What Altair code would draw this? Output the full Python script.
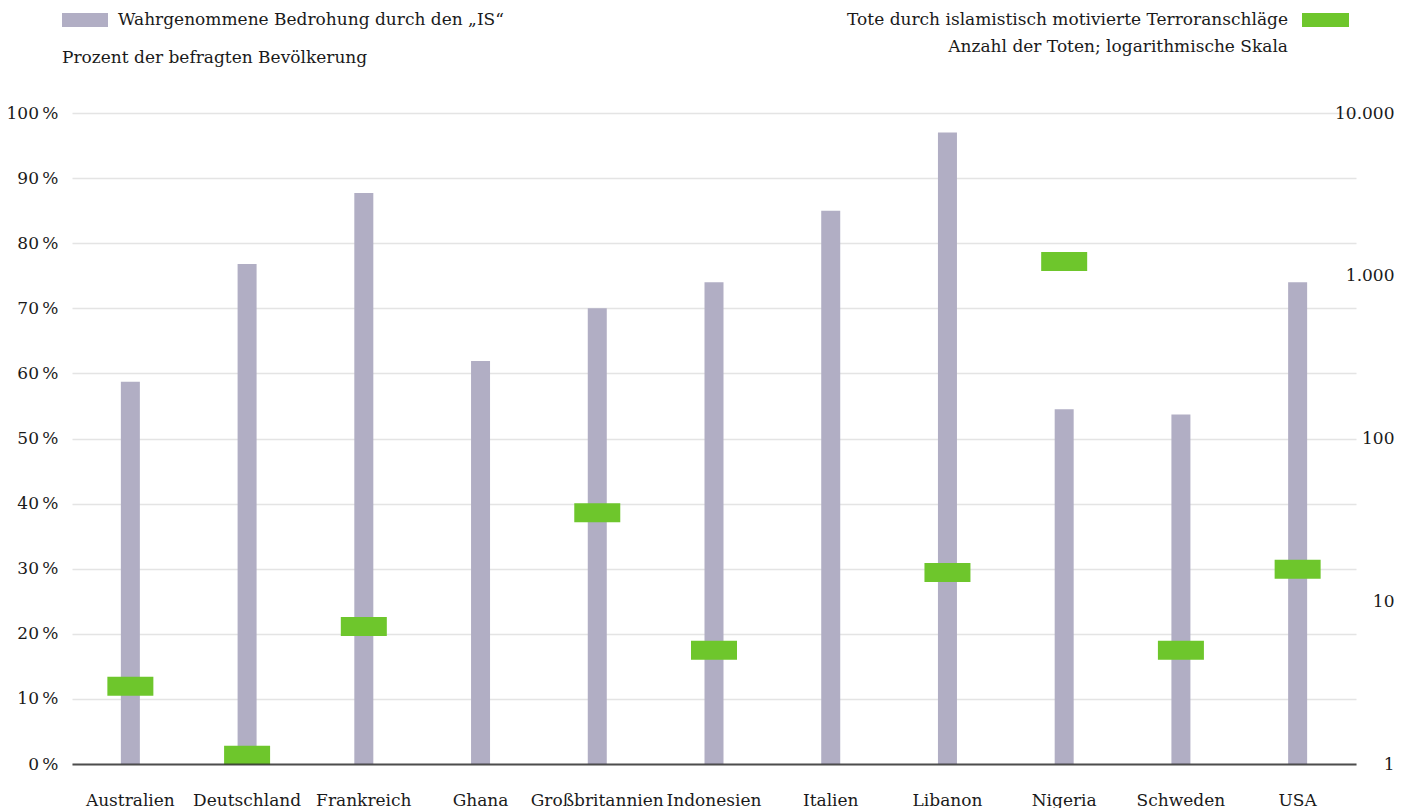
import altair as alt
import pandas as pd

countries = ["Australien", "Deutschland", "Frankreich", "Ghana", "Großbritannien",
             "Indonesien", "Italien", "Libanon", "Nigeria", "Schweden", "USA"]
threat_pct = [58.7, 76.8, 87.7, 61.9, 70, 74, 85, 97, 54.5, 53.7, 74]
deaths = [3, 1.13, 7, None, 35, 5, None, 15, 1225, 5, 15.7]

pct_ticks = [0, 10, 20, 30, 40, 50, 60, 70, 80, 90, 100]
log_ticks = [1, 10, 100, 1000, 10000]

df = pd.DataFrame({"land": countries, "pct": threat_pct, "tote": deaths})

FONT = "DejaVu Serif"
FS = 17
BAR = "#b1aec4"
GREEN = "#6ec62c"
TXT = "#1a1a1a"

x = alt.X("land:N", sort=countries, title=None,
          scale=alt.Scale(range=[9, 1293], paddingInner=0, paddingOuter=0),
          axis=alt.Axis(labelAngle=0, labelFont=FONT, labelFontSize=FS, labelColor=TXT,
                        labelPadding=28, ticks=False, domainColor="#333333",
                        domainOpacity=0.85, domainWidth=2, zindex=1))

bars = alt.Chart(df).mark_bar(size=19, color=BAR).encode(
    x=x,
    y=alt.Y("pct:Q", title=None,
            scale=alt.Scale(domain=[0, 100], nice=False),
            axis=alt.Axis(orient="left", values=pct_ticks, labelExpr="datum.value + '\u2009%'",
                          labelFont=FONT, labelFontSize=FS, labelColor=TXT,
                          labelPadding=5, ticks=False, domain=False,
                          grid=True, gridColor="#e4e4e4", gridWidth=1.5)),
)

marks = alt.Chart(df).transform_filter("isValid(datum.tote)").mark_tick(
    color=GREEN, thickness=19, size=46, opacity=1).encode(
    x=alt.X("land:N", sort=countries),
    y=alt.Y("tote:Q", title=None,
            scale=alt.Scale(type="log", domain=[1, 10000], nice=False),
            axis=alt.Axis(orient="right", values=log_ticks,
                          labelExpr="replace(format(datum.value, ','), ',', '.')",
                          labelFont=FONT, labelFontSize=FS, labelColor=TXT,
                          labelAlign="right", labelPadding=42, ticks=False,
                          domain=False, grid=False)),
)

legend_df = pd.DataFrame({"k": [0]})
base = alt.Chart(legend_df)
sw1 = base.mark_rect(color=BAR).encode(x=alt.value(-1), x2=alt.value(45),
                                       y=alt.value(-100), y2=alt.value(-86))
sw2 = base.mark_rect(color=GREEN).encode(x=alt.value(1239), x2=alt.value(1286),
                                         y=alt.value(-100), y2=alt.value(-86))
t1 = base.mark_text(text="Wahrgenommene Bedrohung durch den „IS“", font=FONT, fontSize=FS,
                    color=TXT, align="left", baseline="middle").encode(
    x=alt.value(55), y=alt.value(-93))
t2 = base.mark_text(text="Prozent der befragten Bevölkerung", font=FONT, fontSize=FS,
                    color=TXT, align="left", baseline="middle").encode(
    x=alt.value(-1), y=alt.value(-55))
t3 = base.mark_text(text="Tote durch islamistisch motivierte Terroranschläge", font=FONT,
                    fontSize=FS, color=TXT, align="right", baseline="middle").encode(
    x=alt.value(1225), y=alt.value(-93))
t4 = base.mark_text(text="Anzahl der Toten; logarithmische Skala", font=FONT, fontSize=FS,
                    color=TXT, align="right", baseline="middle").encode(
    x=alt.value(1225), y=alt.value(-66))

chart = alt.layer(bars, marks, sw1, sw2, t1, t2, t3, t4).resolve_scale(
    y="independent", x="shared"
).properties(
    width=1289, height=651,
    autosize=alt.AutoSizeParams(type="none"),
    padding={"left": 55, "top": 105, "right": 46, "bottom": 44},
).configure_view(stroke=None)

chart.save("out.html", embed_options={"renderer": "svg", "actions": False})
